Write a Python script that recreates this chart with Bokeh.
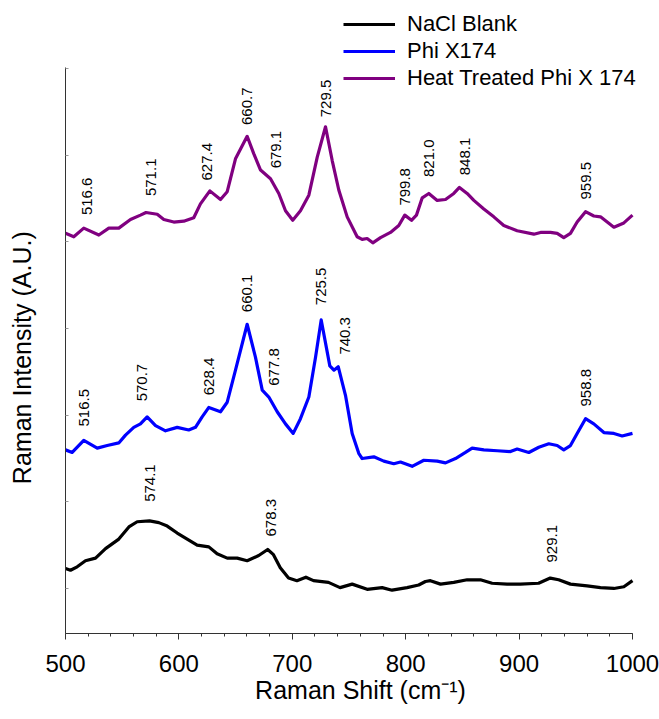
import math
from bokeh.plotting import figure
from bokeh.models import ColumnDataSource, Legend, LegendItem, FixedTicker, Range1d
from bokeh.core.properties import value
from bokeh.embed import file_html
from bokeh.resources import INLINE

# ---------------- data ----------------
heat_x = [500, 507.3, 516.1, 529.4, 538.2, 547.0, 557.3, 566.1, 571.0, 580.9,
          586.7, 595.5, 604.3, 613.1, 619.0, 627.3, 636.7, 642.6, 649.9, 660.2,
          666.0, 672.0, 680.8, 688.1, 694.0, 700.4, 707.2, 714.6, 722.0, 729.3,
          735.2, 741.0, 748.4, 757.2, 761.6, 766.0, 771.0, 777.8, 786.6, 793.9,
          799.2, 805.1, 809.5, 814.6, 820.4, 827.8, 835.1, 842.4, 847.4, 854.2,
          860.1, 868.9, 877.7, 886.5, 898.3, 913.0, 918.9, 927.7, 933.6, 939.4,
          945.3, 951.2, 958.6, 965.9, 971.8, 977.7, 983.6, 992.4, 1000]
heat_y = [4.10, 4.06, 4.16, 4.08, 4.16, 4.16, 4.26, 4.31, 4.34, 4.32,
          4.26, 4.23, 4.24, 4.28, 4.44, 4.59, 4.49, 4.58, 4.96, 5.22,
          5.02, 4.83, 4.73, 4.56, 4.36, 4.25, 4.36, 4.54, 4.98, 5.33,
          4.94, 4.60, 4.29, 4.06, 4.03, 4.04, 3.99, 4.05, 4.11, 4.19,
          4.31, 4.25, 4.31, 4.51, 4.56, 4.48, 4.49, 4.56, 4.63, 4.56,
          4.48, 4.38, 4.29, 4.19, 4.13, 4.09, 4.11, 4.11, 4.10, 4.05,
          4.10, 4.23, 4.35, 4.30, 4.29, 4.23, 4.17, 4.22, 4.31]

phi_x = [500, 505.9, 516.1, 528.0, 536.8, 547.0, 552.9, 560.2, 566.1, 572.0,
         579.4, 588.2, 598.5, 608.7, 614.6, 620.5, 626.4, 636.7, 642.6, 649.9,
         660.2, 667.5, 673.5, 679.3, 686.7, 694.0, 700.8, 707.2, 714.6, 720.5,
         725.5, 733.1, 736.7, 740.5, 746.9, 752.8, 758.6, 761.6, 771.9, 780.7,
         789.5, 795.4, 805.7, 816.0, 827.8, 835.1, 843.9, 852.7, 858.6, 868.9,
         880.7, 892.4, 898.3, 908.6, 917.4, 926.2, 933.6, 939.4, 945.3, 951.2,
         958.6, 965.9, 974.8, 983.6, 990.9, 1000]
phi_y = [1.60, 1.57, 1.71, 1.62, 1.65, 1.68, 1.77, 1.86, 1.90, 1.98,
         1.88, 1.82, 1.86, 1.83, 1.86, 1.98, 2.09, 2.04, 2.15, 2.52,
         3.05, 2.67, 2.29, 2.21, 2.04, 1.90, 1.79, 1.96, 2.21, 2.67,
         3.10, 2.57, 2.52, 2.56, 2.23, 1.79, 1.56, 1.50, 1.52, 1.47,
         1.44, 1.46, 1.41, 1.48, 1.47, 1.45, 1.50, 1.57, 1.62, 1.60,
         1.59, 1.58, 1.61, 1.57, 1.63, 1.67, 1.65, 1.60, 1.65, 1.79,
         1.96, 1.90, 1.80, 1.79, 1.76, 1.79]

nacl_x = [500, 504.4, 510.3, 517.6, 526.5, 535.3, 547.0, 555.9, 563.2, 574.1,
          582.3, 589.7, 598.5, 607.3, 616.1, 626.4, 633.7, 642.6, 651.4, 660.2,
          670.4, 678.3, 683.4, 689.4, 696.7, 704.1, 712.0, 718.7, 731.9, 742.1,
          752.8, 766.0, 779.2, 788.0, 801.2, 811.5, 817.4, 821.8, 830.7, 842.4,
          854.2, 865.9, 876.2, 889.4, 901.1, 917.2, 927.5, 934.9, 945.3, 960.0,
          971.8, 983.6, 992.4, 1000]
nacl_y = [0.23, 0.21, 0.25, 0.32, 0.35, 0.46, 0.57, 0.71, 0.77, 0.78,
          0.76, 0.72, 0.64, 0.57, 0.50, 0.48, 0.40, 0.35, 0.35, 0.32,
          0.38, 0.45, 0.39, 0.24, 0.12, 0.09, 0.13, 0.09, 0.07, 0.01,
          0.05, -0.01, 0.01, -0.02, 0.01, 0.04, 0.08, 0.09, 0.05, 0.07,
          0.10, 0.10, 0.06, 0.05, 0.05, 0.06, 0.12, 0.10, 0.05, 0.03,
          0.01, 0.00, 0.02, 0.09]

heat_peaks = ["516.6", "571.1", "627.4", "660.7", "679.1", "729.5", "799.8", "821.0", "848.1", "959.5"]
phi_peaks = ["516.5", "570.7", "628.4", "660.1", "677.8", "725.5", "740.3", "958.8"]
nacl_peaks = ["574.1", "678.3", "929.1"]

series_names = ["NaCl Blank", "Phi X174", "Heat Treated Phi X 174"]
x_ticks = [500, 600, 700, 800, 900, 1000]

# label anchor positions (where each rotated peak label starts)
heat_lx = [519.1, 575.0, 625.0, 660.2, 685.2, 729.3, 799.8, 820.4, 851.9, 958.6]
heat_ly = [4.31, 4.53, 4.71, 5.35, 4.85, 5.44, 4.42, 4.75, 4.77, 4.49]
phi_lx = [516.1, 567.6, 626.4, 660.2, 683.7, 724.9, 746.9, 958.6]
phi_ly = [1.87, 2.16, 2.23, 3.19, 2.34, 3.27, 2.70, 2.10]
nacl_lx = [574.4, 681.4, 929.2]
nacl_ly = [1.00, 0.60, 0.30]

FONT = "Liberation Sans"
AXIS_COLOR = "#333333"

# the frame is enlarged upward and to the right so the legend (which sits partly
# outside the drawn axes) is not clipped; the axis lines are limited with `bounds`
p = figure(frame_width=590, frame_height=628,
           x_range=Range1d(500, 1020.3), y_range=Range1d(-0.52, 6.73),
           output_backend="svg", toolbar_location=None,
           min_border_left=65, min_border_right=4,
           min_border_top=5, min_border_bottom=84)
p.xgrid.visible = False
p.ygrid.visible = False
p.outline_line_color = None
p.background_fill_color = "white"
p.border_fill_color = "white"

# x axis
xa = p.xaxis[0]
xa.bounds = (500, 1000)
xa.ticker = FixedTicker(ticks=x_ticks, minor_ticks=list(range(500, 1001, 20)))
xa.axis_label = "Raman Shift (cm\u207b\u00b9)"
xa.axis_label_text_font = FONT
xa.axis_label_text_font_size = "25px"
xa.axis_label_text_font_style = "normal"
xa.axis_label_text_color = "black"
xa.axis_label_standoff = 1
xa.major_label_text_font = FONT
xa.major_label_text_font_size = "24px"
xa.major_label_text_color = "black"
xa.major_label_standoff = 15
xa.major_tick_in = 0
xa.major_tick_out = 6
xa.minor_tick_in = 0
xa.minor_tick_out = 3
xa.axis_line_color = AXIS_COLOR
xa.major_tick_line_color = AXIS_COLOR
xa.minor_tick_line_color = AXIS_COLOR

# y axis
ya = p.yaxis[0]
ya.bounds = (-0.52, 6.02)
ya.ticker = FixedTicker(ticks=[0, 1, 2, 3, 4, 5, 6], minor_ticks=[])
ya.major_label_overrides = {0: "", 1: "", 2: "", 3: "", 4: "", 5: "", 6: ""}
ya.major_label_standoff = 0
ya.major_tick_in = 3
ya.major_tick_out = 0
ya.major_tick_line_color = "#999999"
ya.axis_line_color = AXIS_COLOR
# trailing no-break spaces centre the visible words on the drawn part of the axis
ya.axis_label = "Raman Intensity (A.U.)" + "\u00a0" * 11
ya.axis_label_text_font = FONT
ya.axis_label_text_font_size = "25px"
ya.axis_label_text_font_style = "normal"
ya.axis_label_text_color = "black"
ya.axis_label_standoff = 30

colors = ["black", "#0000FF", "#800080"]
xs = [nacl_x, phi_x, heat_x]
ys = [nacl_y, phi_y, heat_y]
renderers = []
for xv, yv, c in zip(xs, ys, colors):
    r = p.line(x=xv, y=yv, line_color=c, line_width=3.2, line_join="round")
    renderers.append(r)

# peak labels
for names, lx, ly in [(heat_peaks, heat_lx, heat_ly), (phi_peaks, phi_lx, phi_ly), (nacl_peaks, nacl_lx, nacl_ly)]:
    src = ColumnDataSource(dict(x=lx, y=ly, t=names))
    p.text(x="x", y="y", text="t", source=src, angle=math.pi / 2,
           text_align="left", text_baseline="middle",
           text_font=value(FONT), text_font_size="15px", text_color="black")

legend = Legend(items=[LegendItem(label=n, renderers=[r]) for n, r in zip(series_names, renderers)],
                location=(278, 542), orientation="vertical",
                padding=0, margin=0, spacing=1,
                glyph_width=52, glyph_height=22, label_standoff=12,
                label_text_font=FONT, label_text_font_size="22px",
                label_text_color="black",
                border_line_alpha=0, background_fill_alpha=0)
p.add_layout(legend, "center")

open("out.html", "w").write(file_html(p, INLINE))
